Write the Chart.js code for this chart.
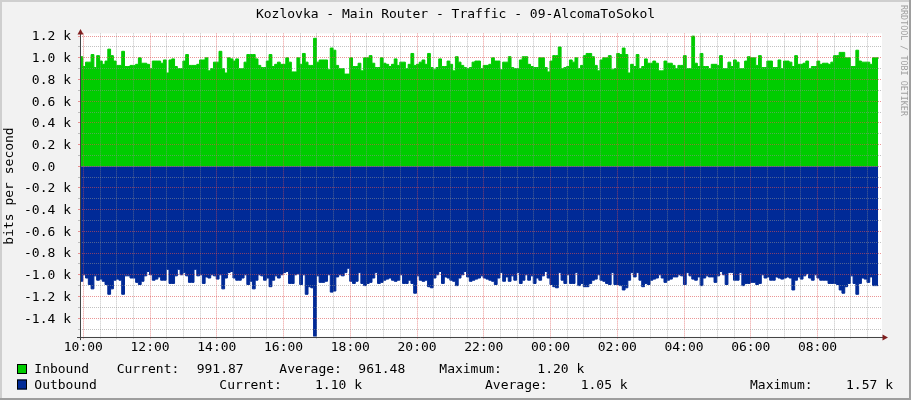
<!DOCTYPE html>
<html>
<head>
<meta charset="utf-8">
<title>Kozlovka - Main Router - Traffic - 09-AlcomaToSokol</title>
<script src="https://cdn.jsdelivr.net/npm/chart.js@4.4.1/dist/chart.umd.min.js"></script>
<style>
    html, body { margin: 0; padding: 0; background: #f2f2f2; }
    #wrap { position: relative; width: 911px; height: 400px; }
</style>
</head>
<body>
<div id="wrap"><canvas id="traffic-chart"></canvas></div>
<script>
var chartTitle = "Kozlovka - Main Router - Traffic - 09-AlcomaToSokol";
var yAxisTitle = "bits per second";
var watermark = "RRDTOOL / TOBI OETIKER";

// time axis in minutes after 10:00, one sample every 5 minutes
var startMinute = -6;
var stepMinutes = 5;
var timeLabels = ["10:00", "12:00", "14:00", "16:00", "18:00", "20:00",
                  "22:00", "00:00", "02:00", "04:00", "06:00", "08:00"];

// bits per second
var inbound = [
    1010,920,960,960,1030,910,1020,970,940,970,
    1080,1020,970,930,930,1060,920,920,930,930,
    940,1000,950,950,940,900,970,970,970,950,
    980,860,980,990,920,900,900,970,1030,930,
    930,930,940,980,980,1000,880,900,960,960,
    1060,900,860,1000,990,970,990,900,900,960,
    1030,1030,1030,990,930,910,910,970,1030,920,
    940,960,940,940,1000,960,870,870,1000,940,
    1040,960,930,930,1180,960,980,980,980,890,
    1090,1070,930,900,900,850,850,
    1000,920,920,950,880,1000,1000,1020,950,910,
    910,1000,950,940,920,940,990,930,960,960,
    900,940,1040,930,940,960,980,940,1040,910,
    890,910,990,920,920,970,940,880,1010,960,
    930,910,900,910,960,970,970,900,930,930,
    940,1000,970,970,890,960,960,1010,910,900,
    900,980,1010,1010,940,920,910,910,1000,1000,
    910,870,970,1020,1020,1100,900,910,920,980,
    960,1000,900,930,1020,1040,1040,1010,930,880,
    980,1000,1000,1020,890,900,1040,
    1030,1090,1030,860,940,920,1030,900,920,990,
    950,950,970,950,880,880,970,950,950,930,
    900,930,930,1020,900,900,1200,950,920,1040,
    920,920,900,940,940,930,1020,900,900,960,
    920,980,960,900,900,970,1010,1000,1000,930,
    1020,910,910,970,970,910,910,980,900,970,
    970,960,920,1020,940,940,950,970,900,920,
    920,970,940,950,950,940,960,1020,1020,1050,
    1050,1000,1000,920,920,1070,970,960,960,960,
    940,1000,1000,990
];

var outbound = [
    -1060,-1000,-1030,-1090,-1130,-1010,-1050,-1040,-1060,-1090,
    -1180,-1130,-1050,-1040,-1050,-1180,-1010,-1010,-1030,-1030,
    -1070,-1090,-1060,-1010,-970,-1000,-1050,-1040,-1020,-1050,
    -1050,-950,-1080,-1080,-1010,-950,-1000,-980,-1010,-1070,
    -1070,-950,-1010,-1000,-1080,-1020,-1030,-1000,-1010,-1040,
    -1000,-1130,-1030,-980,-970,-1030,-1050,-1050,-1030,-1000,
    -1090,-1060,-1130,-1050,-1000,-1010,-1050,-1030,-1110,-1050,
    -1010,-1030,-1000,-980,-970,-1080,-1080,-1000,-990,-1090,
    -1000,-1180,-1110,-1120,-1570,-1010,-1070,-1070,-1060,-1000,
    -1160,-1150,-1020,-1000,-1010,-980,-940,
    -1060,-1080,-1060,-980,-1080,-1100,-1080,-1070,-1030,
    -980,-1080,-1070,-1050,-1040,-1030,-1050,-1060,-1050,-1000,
    -1080,-1080,-1050,-1080,-1170,-1010,-1050,-1060,-1050,-1110,
    -1120,-1030,-1000,-970,-1080,-1020,-1030,-1050,-1060,-1100,
    -1030,-1000,-970,-1020,-1060,-1050,-1040,-1030,-1010,-1030,
    -1040,-1050,-1060,-1090,-1030,-980,-1060,-1020,-1060,-1010,
    -1050,-980,-1080,-1050,-1000,-1050,-1010,-1080,-1030,-1050,
    -1010,-970,-1030,-1090,-1110,-1120,-980,-1050,-1080,-1000,
    -1080,-1080,-980,-1100,-1080,-1110,-1110,-1080,-1050,-1040,
    -1000,-1050,-1060,-1080,-1090,-980,-1090,-1090,
    -1100,-1140,-1120,-1050,-980,-1020,-980,-1050,-1110,-1080,
    -1090,-1050,-1040,-1030,-1000,-1030,-1070,-1050,-1040,-1020,
    -1020,-1000,-1010,-1090,-980,-1010,-1040,-1050,-1020,-1100,
    -1030,-1010,-1020,-1020,-1070,-1010,-970,-1000,-1090,-980,
    -980,-1050,-1050,-980,-1100,-1080,-1080,-1070,-1070,-1090,
    -1080,-1000,-1030,-1020,-1050,-1050,-1020,-1030,-1040,-1030,
    -1020,-1030,-1140,-1050,-1020,-1040,-1010,-990,-1030,-1050,
    -1000,-1030,-1050,-1050,-1050,-1080,-1080,-1080,-1090,-1140,
    -1170,-1110,-1080,-1010,-1080,-1180,-1080,-1030,-1040,-1070,
    -1020,-1100,-1100,-1100
];

var seriesNames = ["Inbound", "Outbound"];
var seriesColors = ["#00cc00", "#002a97"];
var currentValues = ["991.87", "1.10 k"];
var averageValues = ["961.48", "1.05 k"];
var maximumValues = ["1.20 k", "1.57 k"];

var monoFont = "'DejaVu Sans Mono', 'Liberation Mono', monospace";
var minorGrid = "rgba(143, 143, 143, 0.55)";
var majorGrid = "rgba(222, 79, 79, 0.6)";

function toPoints(values) {
    return values.map(function(v, i) {
        return { x: startMinute + i * stepMinutes, y: v };
    });
}

function formatBits(v) {
    if (v === 0) return "0.0  ";
    return (v / 1000).toFixed(1) + " k";
}

var rrdLook = {
    id: "rrdLook",
    beforeDraw: function(chart) {
        var ctx = chart.ctx, w = chart.width, h = chart.height, a = chart.chartArea;
        ctx.save();
        ctx.fillStyle = "#f2f2f2";
        ctx.fillRect(0, 0, w, h);
        ctx.fillStyle = "#cfcfcf";
        ctx.fillRect(0, 0, w, 2);
        ctx.fillRect(0, 0, 2, h);
        ctx.fillStyle = "#9e9e9e";
        ctx.fillRect(w - 2, 0, 2, h);
        ctx.fillRect(0, h - 2, w, 2);
        ctx.fillStyle = "#ffffff";
        ctx.fillRect(a.left, a.top, a.right - a.left, a.bottom - a.top);
        ctx.restore();
    },
    afterDraw: function(chart) {
        var ctx = chart.ctx, a = chart.chartArea;
        ctx.save();

        // axes with arrows
        ctx.strokeStyle = "#444";
        ctx.lineWidth = 1;
        ctx.beginPath();
        ctx.moveTo(a.left + 0.5, a.bottom + 3.5);
        ctx.lineTo(a.left + 0.5, a.top - 3);
        ctx.moveTo(a.left - 3, Math.round(a.bottom) + 0.5);
        ctx.lineTo(a.right + 2, Math.round(a.bottom) + 0.5);
        ctx.stroke();
        ctx.fillStyle = "#801f1f";
        ctx.beginPath();
        ctx.moveTo(a.left - 2.5, a.top + 1);
        ctx.lineTo(a.left + 0.5, a.top - 4.5);
        ctx.lineTo(a.left + 3.5, a.top + 1);
        ctx.closePath();
        ctx.fill();
        var by = Math.round(a.bottom) + 0.5;
        ctx.beginPath();
        ctx.moveTo(a.right + 0.5, by - 3);
        ctx.lineTo(a.right + 6, by);
        ctx.lineTo(a.right + 0.5, by + 3);
        ctx.closePath();
        ctx.fill();

        // title
        ctx.fillStyle = "#000";
        ctx.font = "13px " + monoFont;
        ctx.textAlign = "center";
        ctx.textBaseline = "alphabetic";
        ctx.fillText(chartTitle, 455.5, 18);

        // vertical axis title
        ctx.save();
        ctx.translate(10, 186);
        ctx.rotate(-Math.PI / 2);
        ctx.textBaseline = "middle";
        ctx.fillText(yAxisTitle, 0, 0);
        ctx.restore();

        // watermark on the right edge
        ctx.save();
        ctx.translate(903, 5);
        ctx.rotate(Math.PI / 2);
        ctx.fillStyle = "#a0a0a0";
        ctx.font = "8.4px " + monoFont;
        ctx.textAlign = "left";
        ctx.textBaseline = "middle";
        ctx.fillText(watermark, 0, 0);
        ctx.restore();

        // legend rows
        var rows = [
            { sq: 364, base: 373, cur: [116.7, 196.7], avg: [279.3, 358.3], max: [439.3, 537.3] },
            { sq: 379.5, base: 388.5, cur: [219.3, 315], avg: [485, 580.7], max: [750, 846] }
        ];
        ctx.textAlign = "left";
        ctx.textBaseline = "alphabetic";
        rows.forEach(function(r, i) {
            ctx.fillStyle = seriesColors[i];
            ctx.fillRect(17, r.sq, 10, 10);
            ctx.strokeStyle = "#000";
            ctx.strokeRect(17.5, r.sq + 0.5, 9, 9);
            ctx.fillStyle = "#000";
            ctx.fillText(seriesNames[i], 34.3, r.base);
            ctx.fillText("Current:", r.cur[0], r.base);
            ctx.fillText(currentValues[i], r.cur[1], r.base);
            ctx.fillText("Average:", r.avg[0], r.base);
            ctx.fillText(averageValues[i], r.avg[1], r.base);
            ctx.fillText("Maximum:", r.max[0], r.base);
            ctx.fillText(maximumValues[i], r.max[1], r.base);
        });
        ctx.restore();
    }
};

Chart.defaults.font.family = monoFont;
Chart.defaults.font.size = 13;
Chart.defaults.color = "#000";

var ctx = document.getElementById("traffic-chart").getContext("2d");
var trafficChart = new Chart(ctx, {
    type: "line",
    data: {
        datasets: [{
            label: seriesNames[0],
            data: toPoints(inbound),
            stepped: true,
            fill: "origin",
            backgroundColor: seriesColors[0],
            borderColor: seriesColors[0],
            borderWidth: 1,
            pointRadius: 0
        }, {
            label: seriesNames[1],
            data: toPoints(outbound),
            stepped: true,
            fill: "origin",
            backgroundColor: seriesColors[1],
            borderColor: seriesColors[1],
            borderWidth: 1,
            pointRadius: 0
        }]
    },
    options: {
        responsive: true,
        maintainAspectRatio: false,
        animation: false,
        layout: { padding: { top: 33.4, right: 29, left: 0, bottom: 0 } },
        plugins: {
            legend: { display: false },
            title: { display: false },
            tooltip: { enabled: false }
        },
        scales: {
            x: {
                type: "linear",
                min: startMinute,
                max: 1436,
                afterFit: function(scale) { scale.height = 63.4; },
                afterBuildTicks: function(scale) {
                    var t = [];
                    for (var m = 0; m <= 1410; m += 30) t.push({ value: m });
                    scale.ticks = t;
                },
                ticks: {
                    autoSkip: false,
                    maxRotation: 0,
                    padding: 1,
                    callback: function(value) {
                        return value % 120 === 0 ? timeLabels[value / 120] : "";
                    }
                },
                grid: {
                    z: 1,
                    tickLength: 2,
                    color: function(c) {
                        return c.tick && c.tick.value % 120 === 0 ? majorGrid : minorGrid;
                    }
                },
                border: { display: false, dash: [1, 1] }
            },
            y: {
                min: -1570,
                max: 1225,
                afterFit: function(scale) { scale.width = 80; },
                afterBuildTicks: function(scale) {
                    var t = [];
                    for (var v = -1500; v <= 1200; v += 100) t.push({ value: v });
                    scale.ticks = t;
                },
                ticks: {
                    autoSkip: false,
                    padding: 7,
                    labelOffset: 1,
                    callback: function(value) {
                        return value % 200 === 0 ? formatBits(value) : "";
                    }
                },
                grid: {
                    z: 1,
                    tickLength: 2,
                    color: function(c) {
                        return c.tick && c.tick.value % 200 === 0 ? majorGrid : minorGrid;
                    }
                },
                border: { display: false, dash: [1, 1] }
            }
        }
    },
    plugins: [rrdLook]
});
</script>
</body>
</html>
